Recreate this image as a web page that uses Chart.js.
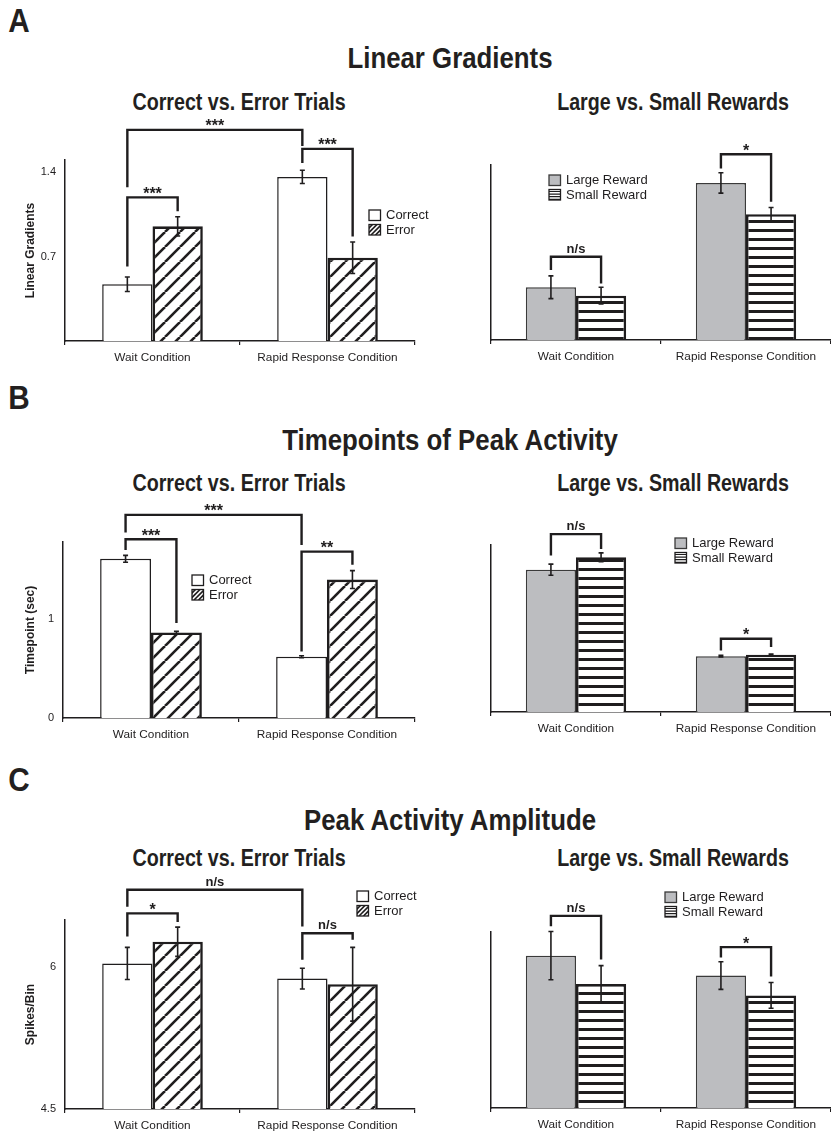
<!DOCTYPE html>
<html>
<head>
<meta charset="utf-8">
<script src="https://cdn.jsdelivr.net/npm/chart.js@4.4.1/dist/chart.umd.min.js"></script>
<style>
  body { margin: 0; background: #fff; }
  #fig { position: relative; width: 831px; height: 1133px; overflow: hidden; background: #fff; }
  #fig canvas { position: absolute; }
  .hd { position: absolute; white-space: nowrap; line-height: 1;
        font-family: "Liberation Sans", Arial, sans-serif; font-weight: bold; color: #231f20; }
  .big { font-size: 30px; transform: translate(-50%, -50%) scaleX(0.86); }
  .sub { font-size: 23px; transform: translate(-50%, -50%) scaleX(0.855); }
  .let { font-size: 33px; transform: translate(-50%, -50%) scaleX(0.9); }
</style>
</head>
<body>
<div id="fig">
  <div class="hd let" style="left:19px;top:20px">A</div>
  <div class="hd big" style="left:450px;top:58px">Linear Gradients</div>
  <div class="hd sub" style="left:239px;top:102px">Correct vs. Error Trials</div>
  <div class="hd sub" style="left:673px;top:102px">Large vs. Small Rewards</div>

  <div class="hd let" style="left:19px;top:397px">B</div>
  <div class="hd big" style="left:450px;top:440px">Timepoints of Peak Activity</div>
  <div class="hd sub" style="left:239px;top:483px">Correct vs. Error Trials</div>
  <div class="hd sub" style="left:673px;top:483px">Large vs. Small Rewards</div>

  <div class="hd let" style="left:19px;top:779px">C</div>
  <div class="hd big" style="left:450px;top:820px">Peak Activity Amplitude</div>
  <div class="hd sub" style="left:239px;top:858px">Correct vs. Error Trials</div>
  <div class="hd sub" style="left:673px;top:858px">Large vs. Small Rewards</div>
</div>
<script>
const categories = ['Wait Condition', 'Rapid Response Condition'];

// A - linear gradients
const gradCorrect = [0.47, 1.36];
const gradCorrectErr = [0.06, 0.055];
const gradError = [0.95, 0.69];
const gradErrorErr = [0.08, 0.13];
const gradLarge = [0.44, 1.31];
const gradLargeErr = [0.095, 0.085];
const gradSmall = [0.37, 1.05];
const gradSmallErr = [0.07, 0.055];
const gradTicks = [0.7, 1.4];

// B - timepoints of peak activity (sec)
const timeCorrect = [1.61, 0.62];
const timeCorrectErr = [0.035, 0.01];
const timeError = [0.865, 1.40];
const timeErrorErr = [0.012, 0.09];
const timeLarge = [1.44, 0.565];
const timeLargeErr = [0.056, 0.008];
const timeSmall = [1.565, 0.58];
const timeSmallErr = [0.045, 0.006];
const timeTicks = [0, 1];

// C - peak activity amplitude (spikes/bin)
const ampCorrect = [6.04, 5.88];
const ampCorrectErr = [0.17, 0.11];
const ampError = [6.27, 5.82];
const ampErrorErr = [0.155, 0.39];
const ampLarge = [6.11, 5.90];
const ampLargeErr = [0.255, 0.146];
const ampSmall = [5.81, 5.69];
const ampSmallErr = [0.195, 0.136];
const ampTicks = [4.5, 6];

// significance brackets: [dataset, category] pairs, bracket level, leg ends (data units)
const gradBracketsCE = [
  { a: [0, 0], b: [0, 1], level: 1.75, ends: [1.275, 1.617], label: '***' },
  { a: [0, 0], b: [1, 0], level: 1.19, ends: [0.617, 1.075], label: '***' },
  { a: [0, 1], b: [1, 1], level: 1.592, ends: [1.475, 0.867], label: '***' }
];
const gradBracketsLS = [
  { a: [0, 0], b: [1, 0], level: 0.694, ends: [0.583, 0.472], label: 'n/s' },
  { a: [0, 1], b: [1, 1], level: 1.55, ends: [1.43, 1.153], label: '*' }
];
const timeBracketsCE = [
  { a: [0, 0], b: [0, 1], level: 2.054, ends: [1.875, 1.75], label: '***' },
  { a: [0, 0], b: [1, 0], level: 1.808, ends: [1.70, 0.96], label: '***' },
  { a: [0, 1], b: [1, 1], level: 1.683, ends: [0.673, 1.549], label: '**' }
];
const timeBracketsLS = [
  { a: [0, 0], b: [1, 0], level: 1.80, ends: [1.583, 1.65], label: 'n/s' },
  { a: [0, 1], b: [1, 1], level: 0.741, ends: [0.623, 0.657], label: '*' }
];
const ampBracketsCE = [
  { a: [0, 0], b: [0, 1], level: 6.82, ends: [6.64, 6.43], label: 'n/s' },
  { a: [0, 0], b: [1, 0], level: 6.57, ends: [6.325, 6.48], label: '*' },
  { a: [0, 1], b: [1, 1], level: 6.36, ends: [6.08, 6.29], label: 'n/s' }
];
const ampBracketsLS = [
  { a: [0, 0], b: [1, 0], level: 6.53, ends: [6.42, 6.07], label: 'n/s' },
  { a: [0, 1], b: [1, 1], level: 6.20, ends: [6.09, 5.89], label: '*' }
];

const INK = '#1f1d1e';
const GREY = '#bcbdc0';
const FONT = '"Liberation Sans", Arial, sans-serif';

function hatchPattern() {
  const s = 15, c = document.createElement('canvas');
  c.width = s; c.height = s;
  const g = c.getContext('2d');
  g.fillStyle = '#fff'; g.fillRect(0, 0, s, s);
  g.strokeStyle = INK; g.lineWidth = 2.6;
  for (const k of [-1, 0, 1]) {
    g.beginPath(); g.moveTo(k * s, s); g.lineTo(k * s + s, 0); g.stroke();
  }
  return g.createPattern(c, 'repeat');
}

function stripePattern() {
  const c = document.createElement('canvas');
  c.width = 8; c.height = 9;
  const g = c.getContext('2d');
  g.fillStyle = '#fff'; g.fillRect(0, 0, 8, 9);
  g.fillStyle = INK; g.fillRect(0, 0, 8, 3);
  return g.createPattern(c, 'repeat');
}

const hatch = hatchPattern();
const stripes = stripePattern();

const errorBars = {
  id: 'errorBars',
  afterDatasetsDraw(chart) {
    const ctx = chart.ctx, y = chart.scales.y;
    ctx.save();
    ctx.strokeStyle = INK; ctx.lineWidth = 1.6;
    chart.data.datasets.forEach((ds, i) => {
      chart.getDatasetMeta(i).data.forEach((bar, j) => {
        const v = ds.data[j], e = ds.errors[j];
        const top = y.getPixelForValue(v + e), bot = y.getPixelForValue(v - e);
        ctx.beginPath();
        ctx.moveTo(bar.x, top); ctx.lineTo(bar.x, bot);
        ctx.moveTo(bar.x - 2.5, top); ctx.lineTo(bar.x + 2.5, top);
        ctx.moveTo(bar.x - 2.5, bot); ctx.lineTo(bar.x + 2.5, bot);
        ctx.stroke();
      });
    });
    ctx.restore();
  }
};

const brackets = {
  id: 'brackets',
  afterDraw(chart, args, opts) {
    const ctx = chart.ctx, y = chart.scales.y;
    ctx.save();
    ctx.strokeStyle = INK; ctx.lineWidth = 2.4; ctx.lineJoin = 'miter';
    ctx.fillStyle = INK; ctx.textAlign = 'center';
    (opts.items || []).forEach(b => {
      const xa = chart.getDatasetMeta(b.a[0]).data[b.a[1]].x;
      const xb = chart.getDatasetMeta(b.b[0]).data[b.b[1]].x;
      const yl = y.getPixelForValue(b.level);
      ctx.beginPath();
      ctx.moveTo(xa, y.getPixelForValue(b.ends[0]));
      ctx.lineTo(xa, yl); ctx.lineTo(xb, yl);
      ctx.lineTo(xb, y.getPixelForValue(b.ends[1]));
      ctx.stroke();
      const stars = /^\*+$/.test(b.label);
      ctx.font = stars ? 'bold 16px ' + FONT : 'bold 13px ' + FONT;
      ctx.fillText(b.label, (xa + xb) / 2, stars ? yl + 1.5 : yl - 4);
    });
    ctx.restore();
  }
};

const keyBox = {
  id: 'keyBox',
  afterDraw(chart, args, opts) {
    if (!opts.items) return;
    const ctx = chart.ctx;
    const x0 = opts.x - chart.canvas.offsetLeft, y0 = opts.y - chart.canvas.offsetTop;
    ctx.save();
    ctx.font = '13px ' + FONT; ctx.textBaseline = 'middle'; ctx.fillStyle = INK;
    opts.items.forEach((it, i) => {
      const bx = x0, by = y0 + i * 14.5, w = 11.5, h = 10.5;
      ctx.fillStyle = it.kind === 'grey' ? GREY : '#fff';
      ctx.fillRect(bx, by, w, h);
      ctx.save();
      ctx.beginPath(); ctx.rect(bx, by, w, h); ctx.clip();
      ctx.strokeStyle = INK;
      if (it.kind === 'hatch') {
        ctx.lineWidth = 1.6;
        for (let k = -w; k < w * 2; k += 4.5) {
          ctx.beginPath(); ctx.moveTo(bx + k, by + h); ctx.lineTo(bx + k + h, by); ctx.stroke();
        }
      } else if (it.kind === 'stripe') {
        ctx.lineWidth = 1.2;
        for (let k = 2; k < h; k += 2.6) {
          ctx.beginPath(); ctx.moveTo(bx, by + k); ctx.lineTo(bx + w, by + k); ctx.stroke();
        }
      }
      ctx.restore();
      ctx.strokeStyle = it.kind === 'grey' ? '#3a3a3a' : INK;
      ctx.lineWidth = 1.3;
      ctx.strokeRect(bx, by, w, h);
      ctx.fillStyle = INK;
      ctx.fillText(it.text, bx + 17, by + h / 2 + 0.5);
    });
    ctx.restore();
  }
};

function correctSet(data, errors) {
  return { label: 'Correct', data, errors, backgroundColor: '#fff', borderColor: INK, borderWidth: 1.5 };
}
function errorSet(data, errors) {
  return { label: 'Error', data, errors, backgroundColor: hatch, borderColor: INK, borderWidth: 2.6 };
}
function largeSet(data, errors) {
  return { label: 'Large Reward', data, errors, backgroundColor: GREY, borderColor: '#3a3a3a', borderWidth: 1.5 };
}
function smallSet(data, errors) {
  return { label: 'Small Reward', data, errors, backgroundColor: stripes, borderColor: INK, borderWidth: 2.6 };
}

const keyCE = [{ text: 'Correct', kind: 'white' }, { text: 'Error', kind: 'hatch' }];
const keyLS = [{ text: 'Large Reward', kind: 'grey' }, { text: 'Small Reward', kind: 'stripe' }];

function makeChart(cfg) {
  const [cl, ct, cw, ch] = cfg.canvas;
  const [al, at, ar, ab] = cfg.area;
  const cv = document.createElement('canvas');
  cv.width = cw; cv.height = ch;
  cv.style.left = cl + 'px'; cv.style.top = ct + 'px';
  cv.style.width = cw + 'px'; cv.style.height = ch + 'px';
  document.getElementById('fig').appendChild(cv);

  return new Chart(cv, {
    type: 'bar',
    data: { labels: categories, datasets: cfg.datasets },
    plugins: [errorBars, brackets, keyBox],
    options: {
      responsive: false,
      animation: false,
      devicePixelRatio: 1,
      layout: { padding: { top: at - ct, right: cl + cw - ar, left: 0, bottom: 0 } },
      datasets: { bar: { categoryPercentage: cfg.catPct, barPercentage: 1, borderSkipped: 'start' } },
      plugins: {
        legend: { display: false },
        tooltip: { enabled: false },
        brackets: { items: cfg.brackets },
        keyBox: { x: cfg.key[0], y: cfg.key[1], items: cfg.keyItems }
      },
      scales: {
        x: {
          grid: { display: true, drawOnChartArea: false, drawTicks: true, tickLength: 4, color: INK, lineWidth: 1.2 },
          border: { display: true, color: INK, width: 1.5 },
          ticks: { color: INK, padding: 6, font: { family: FONT, size: 11.8 }, maxRotation: 0 },
          afterFit(s) { s.height = ct + ch - ab; }
        },
        y: {
          min: cfg.yMin, max: cfg.yMax,
          grid: { display: false, drawTicks: false },
          border: { display: true, color: INK, width: 1.5 },
          ticks: {
            display: !!cfg.yTicks, color: INK, padding: 9,
            font: { family: FONT, size: 11 },
            callback: v => String(v)
          },
          afterBuildTicks(s) { s.ticks = (cfg.yTicks || []).map(v => ({ value: v })); },
          title: {
            display: !!cfg.yTitle, text: cfg.yTitle || '', color: INK,
            font: { family: FONT, size: 12, weight: 'bold' },
            padding: { top: 23, bottom: 0 }
          },
          afterFit(s) { s.width = al - cl; }
        }
      }
    }
  });
}

// A
makeChart({
  canvas: [0, 112, 440, 262], area: [65, 160, 415, 341],
  datasets: [correctSet(gradCorrect, gradCorrectErr), errorSet(gradError, gradErrorErr)],
  yMin: 0, yMax: 1.5, yTicks: gradTicks, yTitle: 'Linear Gradients', catPct: 0.575,
  brackets: gradBracketsCE, key: [369, 210], keyItems: keyCE
});
makeChart({
  canvas: [420, 112, 411, 262], area: [491, 165, 831, 340],
  datasets: [largeSet(gradLarge, gradLargeErr), smallSet(gradSmall, gradSmallErr)],
  yMin: 0, yMax: 1.46, catPct: 0.59,
  brackets: gradBracketsLS, key: [549, 175], keyItems: keyLS
});
// B
makeChart({
  canvas: [0, 496, 440, 250], area: [63, 542, 415, 718],
  datasets: [correctSet(timeCorrect, timeCorrectErr), errorSet(timeError, timeErrorErr)],
  yMin: 0, yMax: 1.78, yTicks: timeTicks, yTitle: 'Timepoint (sec)', catPct: 0.578,
  brackets: timeBracketsCE, key: [192, 575], keyItems: keyCE
});
makeChart({
  canvas: [420, 496, 411, 250], area: [491, 545, 831, 712],
  datasets: [largeSet(timeLarge, timeLargeErr), smallSet(timeSmall, timeSmallErr)],
  yMin: 0, yMax: 1.69, catPct: 0.59,
  brackets: timeBracketsLS, key: [675, 538], keyItems: keyLS
});
// C
makeChart({
  canvas: [0, 866, 440, 267], area: [65, 920, 415, 1109],
  datasets: [correctSet(ampCorrect, ampCorrectErr), errorSet(ampError, ampErrorErr)],
  yMin: 4.5, yMax: 6.5, yTicks: ampTicks, yTitle: 'Spikes/Bin', catPct: 0.575,
  brackets: ampBracketsCE, key: [357, 891], keyItems: keyCE
});
makeChart({
  canvas: [420, 866, 411, 267], area: [491, 932, 831, 1108],
  datasets: [largeSet(ampLarge, ampLargeErr), smallSet(ampSmall, ampSmallErr)],
  yMin: 4.5, yMax: 6.36, catPct: 0.59,
  brackets: ampBracketsLS, key: [665, 892], keyItems: keyLS
});
</script>
</body>
</html>
